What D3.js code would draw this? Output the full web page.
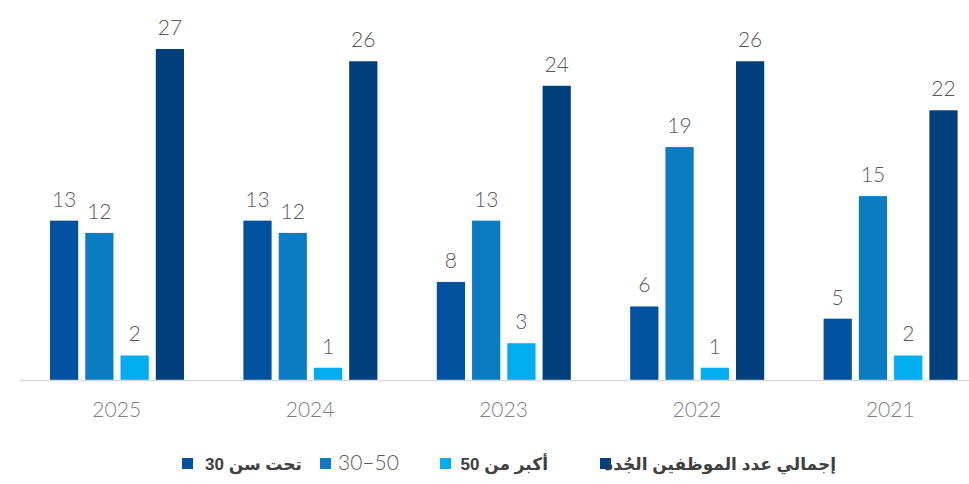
<!DOCTYPE html>
<html>
<head>
<meta charset="utf-8">
<script src="https://cdn.jsdelivr.net/npm/d3@7"></script>
<style>
  body { margin: 0; background: #fff; }
  svg { display: block; }
</style>
</head>
<body>
<div id="chart"></div>
<script>
var w = 969;
var h = 484;

var years = ["2025", "2024", "2023", "2022", "2021"];
var seriesNames = ["تحت سن 30", "30–50", "أكبر من 50", "إجمالي عدد الموظفين الجُدد"];
var under30 = [13, 13, 8, 6, 5];
var mid = [12, 12, 13, 19, 15];
var over50 = [2, 1, 3, 1, 2];
var total = [27, 26, 24, 26, 22];
var colors = ["#00529f", "#0b7cc2", "#00aeef", "#003f7d"];

var values = [under30, mid, over50, total];
var data = years.map(function(y, i){
    return { year: y, vals: values.map(function(v){ return v[i]; }) };
});

var svg = d3.select("#chart")
    .append("svg")
        .attr("width", w)
        .attr("height", h);

var baseY = 380;

var x0 = d3.scaleBand()
    .domain(years)
    .range([20, 987]);

var x1 = d3.scaleBand()
    .domain(d3.range(4))
    .range([30, 164])
    .paddingInner(0.2);

var y = d3.scaleLinear()
    .domain([0, 27])
    .range([baseY, 49]);

var groups = svg.selectAll("g.grp")
    .data(data)
    .enter()
    .append("g")
        .attr("class", "grp")
        .attr("transform", function(d){ return "translate(" + x0(d.year) + ",0)"; });

groups.selectAll("rect")
    .data(function(d){ return d.vals; })
    .enter()
    .append("rect")
        .attr("x", function(d, i){ return x1(i); })
        .attr("y", function(d){ return y(d); })
        .attr("width", x1.bandwidth())
        .attr("height", function(d){ return baseY - y(d); })
        .attr("fill", function(d, i){ return colors[i]; });

groups.selectAll("text.val")
    .data(function(d){ return d.vals; })
    .enter()
    .append("text")
        .attr("class", "val")
        .attr("x", function(d, i){ return x1(i) + x1.bandwidth() / 2; })
        .attr("y", function(d){ return y(d) - 14; })
        .attr("text-anchor", "middle")
        .attr("font-family", "Lato, 'Liberation Sans', sans-serif")
        .attr("font-weight", 300)
        .attr("font-size", 21)
        .attr("fill", "#595959")
        .text(function(d){ return d; });

// axis line
svg.append("line")
    .attr("x1", 20)
    .attr("x2", 969)
    .attr("y1", baseY + 0.5)
    .attr("y2", baseY + 0.5)
    .attr("stroke", "#d9d9d9")
    .attr("stroke-width", 1.5);

var xAxis = svg.append("g")
    .attr("transform", "translate(0," + baseY + ")")
    .call(d3.axisBottom(x0).tickSize(0).tickPadding(22));
xAxis.select(".domain").remove();
xAxis.selectAll("text")
    .attr("font-family", "Lato, 'Liberation Sans', sans-serif")
    .attr("font-weight", 300)
    .attr("font-size", 21)
    .attr("fill", "#7f7f7f");

// legend
var legendItems = [
    { sq: 182, tx: 302, bold: true, rtl: true },
    { sq: 320, tx: 338, bold: false, rtl: false },
    { sq: 440, tx: 548, bold: true, rtl: true },
    { sq: 600, tx: 836, bold: true, rtl: true }
];

var legend = svg.selectAll("g.leg")
    .data(legendItems)
    .enter()
    .append("g")
        .attr("class", "leg");

legend.append("rect")
    .attr("x", function(d){ return d.sq; })
    .attr("y", 458)
    .attr("width", 11)
    .attr("height", 11)
    .attr("fill", function(d, i){ return colors[i]; });

legend.append("text")
    .attr("x", function(d){ return d.tx; })
    .attr("y", 470)
    .attr("direction", function(d){ return d.rtl ? "rtl" : "ltr"; })
    .attr("text-anchor", "start")
    .attr("font-family", function(d){ return d.bold ? "'Liberation Sans', 'DejaVu Sans', sans-serif" : "Lato, 'Liberation Sans', sans-serif"; })
    .attr("font-weight", function(d){ return d.bold ? 700 : 300; })
    .attr("font-size", function(d){ return d.bold ? 17 : 21; })
    .attr("fill", function(d){ return d.bold ? "#404040" : "#595959"; })
    .text(function(d, i){ return seriesNames[i]; });
</script>
</body>
</html>
